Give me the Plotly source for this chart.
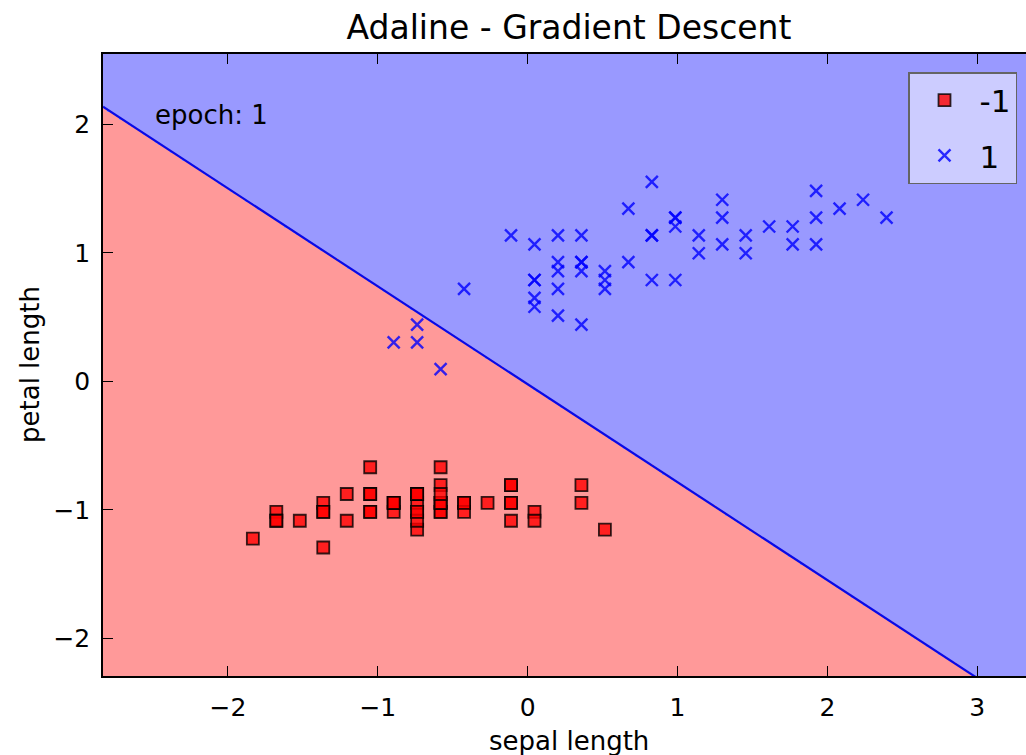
import numpy as np
import plotly.graph_objects as go

# ---- data: first 100 iris samples (setosa = -1, versicolor = 1) ----
setosa_sepal = [5.1, 4.9, 4.7, 4.6, 5.0, 5.4, 4.6, 5.0, 4.4, 4.9,
                5.4, 4.8, 4.8, 4.3, 5.8, 5.7, 5.4, 5.1, 5.7, 5.1,
                5.4, 5.1, 4.6, 5.1, 4.8, 5.0, 5.0, 5.2, 5.2, 4.7,
                4.8, 5.4, 5.2, 5.5, 4.9, 5.0, 5.5, 4.9, 4.4, 5.1,
                5.0, 4.5, 4.4, 5.0, 5.1, 4.8, 5.1, 4.6, 5.3, 5.0]
setosa_petal = [1.4, 1.4, 1.3, 1.5, 1.4, 1.7, 1.4, 1.5, 1.4, 1.5,
                1.5, 1.6, 1.4, 1.1, 1.2, 1.5, 1.3, 1.4, 1.7, 1.5,
                1.7, 1.5, 1.0, 1.7, 1.9, 1.6, 1.6, 1.5, 1.4, 1.6,
                1.6, 1.5, 1.5, 1.4, 1.5, 1.2, 1.3, 1.5, 1.3, 1.5,
                1.3, 1.3, 1.3, 1.6, 1.9, 1.4, 1.6, 1.4, 1.5, 1.4]
versicolor_sepal = [7.0, 6.4, 6.9, 5.5, 6.5, 5.7, 6.3, 4.9, 6.6, 5.2,
                    5.0, 5.9, 6.0, 6.1, 5.6, 6.7, 5.6, 5.8, 6.2, 5.6,
                    5.9, 6.1, 6.3, 6.1, 6.4, 6.6, 6.8, 6.7, 6.0, 5.7,
                    5.5, 5.5, 5.8, 6.0, 5.4, 6.0, 6.7, 6.3, 5.6, 5.5,
                    5.5, 6.1, 5.8, 5.0, 5.6, 5.7, 5.7, 6.2, 5.1, 5.7]
versicolor_petal = [4.7, 4.5, 4.9, 4.0, 4.6, 4.5, 4.7, 3.3, 4.6, 3.9,
                    3.5, 4.2, 4.0, 4.7, 3.6, 4.4, 4.5, 4.1, 4.5, 3.9,
                    4.8, 4.0, 4.9, 4.7, 4.3, 4.4, 4.8, 5.0, 4.5, 3.5,
                    3.8, 3.7, 3.9, 5.1, 4.5, 4.5, 4.7, 4.4, 4.1, 4.0,
                    4.4, 4.6, 4.0, 3.3, 4.2, 4.2, 4.2, 4.3, 3.0, 4.1]
class_labels = ["-1", "1"]
# decision-boundary weights: w0 + w1*x + w2*y = 0
weights = [0.022, 0.762, 1.0]
epoch_label = "epoch: 1"

# ---- standardize ----
sepal = np.array(setosa_sepal + versicolor_sepal)
petal = np.array(setosa_petal + versicolor_petal)
xs = (sepal - sepal.mean()) / sepal.std()
ys = (petal - petal.mean()) / petal.std()
n1 = len(setosa_sepal)

res = 0.02
gx = np.arange(xs.min() - 1, xs.max() + 1, res)
gy = np.arange(ys.min() - 1, ys.max() + 1, res)
GX, GY = np.meshgrid(gx, gy)
Z = (weights[0] + weights[1] * GX + weights[2] * GY >= 0).astype(int)
line_y = -(weights[0] + weights[1] * gx) / weights[2]

FONT = "DejaVu Sans"
fig = go.Figure()
fig.add_trace(go.Heatmap(x=gx, y=gy, z=Z, zmin=0, zmax=1, showscale=False,
                         colorscale=[[0, "rgb(255,153,153)"], [1, "rgb(153,153,255)"]],
                         hoverinfo="skip"))
fig.add_trace(go.Scatter(x=gx, y=line_y, mode="lines", showlegend=False,
                         line=dict(color="rgb(10,10,230)", width=2.2), hoverinfo="skip"))
fig.add_trace(go.Scatter(x=xs[:n1], y=ys[:n1], mode="markers", name=class_labels[0],
                         legendgroup="a",
                         marker=dict(symbol="square", size=12, color="rgba(255,0,0,0.8)",
                                     line=dict(color="rgba(0,0,0,0.8)", width=1.8))))
fig.add_trace(go.Scatter(x=xs[n1:], y=ys[n1:], mode="markers", name=class_labels[1],
                         legendgroup="b",
                         marker=dict(symbol="x-thin", size=12, color="rgba(0,0,255,0.8)",
                                     line=dict(color="rgba(0,0,255,0.8)", width=2.4))))

L, T, B = 103, 54, 79
W, H = 1026, 755
pw = W - L
ph = H - T - B
x_lo = gx.min()
x_hi = x_lo + pw / 149.85
y_rng = [gy.min(), gy.max()]

fig.add_annotation(x=-2.5, y=2.07, xref="x", yref="y", text=epoch_label, showarrow=False,
                   xanchor="left", yanchor="middle", font=dict(family=FONT, size=26, color="black"))
fig.add_annotation(x=(569 - L) / pw, y=(676 - 741) / ph, xref="paper", yref="paper",
                   text="sepal length", showarrow=False, xanchor="center", yanchor="middle",
                   font=dict(family=FONT, size=26, color="black"))
fig.add_annotation(x=(30 - L) / pw, y=0.5, xref="paper", yref="paper", textangle=-90,
                   text="petal length", showarrow=False, xanchor="center", yanchor="middle",
                   font=dict(family=FONT, size=26, color="black"))

tick_common = dict(showgrid=False, zeroline=False, ticks="inside", ticklen=10, tickwidth=1,
                   tickcolor="black", dtick=1, tickfont=dict(family=FONT, size=25, color="black"))
fig.update_xaxes(range=[x_lo, x_hi], ticklabelstandoff=8, showline=True, linecolor="black",
                 linewidth=1.5, mirror="ticks", **tick_common)
fig.update_yaxes(range=y_rng, ticklabelstandoff=6, showline=True, linecolor="black",
                 linewidth=1.5, mirror=False, **tick_common)

fig.update_layout(
    width=W, height=H,
    margin=dict(l=L, r=0, t=T, b=B, pad=0),
    paper_bgcolor="white", plot_bgcolor="white",
    yaxis2=dict(overlaying="y", side="right", range=y_rng, showticklabels=False,
                showline=False, **tick_common),
    title=dict(text="Adaline - Gradient Descent", x=(569 - L) / pw,
               xref="paper", y=1 - 27 / H, yref="container", xanchor="center", yanchor="middle",
               font=dict(family=FONT, size=33, color="black")),
    showlegend=True,
    legend=dict(x=(1017 - L) / pw, y=(676 - 72) / ph, xanchor="right", yanchor="top",
                bgcolor="rgba(255,255,255,0.5)", bordercolor="rgb(100,100,100)", borderwidth=1.5,
                font=dict(family=FONT, size=31, color="black"), itemwidth=60,
                entrywidth=110, entrywidthmode="pixels", tracegroupgap=12),
    hovermode=False,
)
fig.write_html("out.html")
